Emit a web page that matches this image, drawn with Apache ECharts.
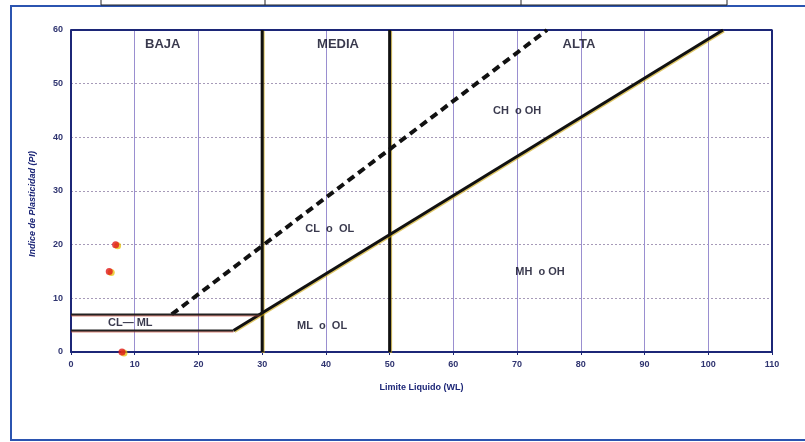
<!DOCTYPE html>
<html>
<head>
<meta charset="utf-8">
<script src="https://cdn.jsdelivr.net/npm/echarts@6/dist/echarts.min.js"></script>
<style>
html,body{margin:0;padding:0;background:#fff;}
#c{width:805px;height:442px;}
</style>
</head>
<body>
<div id="c"></div>
<script>
// ---- data ----
const xTicks = [0,10,20,30,40,50,60,70,80,90,100,110];
const yTicks = [0,10,20,30,40,50,60];
const aLine = [[25.5,4],[102.3,60]];          // línea A (sólida)
const uLine = [[15.8,7],[74.7,60]];           // línea U (discontinua)
const clmlTop = [[0,7],[29.6,7]];
const clmlBottom = [[0,4],[25.5,4]];
const limit30 = [[30,0],[30,60]];
const limit50 = [[50,0],[50,60]];
const samples = [[7,20],[6,15],[8,0]];
const zoneNames = ['BAJA','MEDIA','ALTA','CH  o OH','CL  o  OL','MH  o OH','ML  o  OL','CL— ML'];
const zoneX = [14.4,41.9,79.7,70,40.6,73.6,39.4,9.3];
const zoneY = [57.4,57.4,57.4,45,22.9,14.9,4.8,5.4];
const zoneBig = [true,true,true,false,false,false,false,false];

const navy = '#1c2677';
const zoneData = zoneNames.map((n,i)=>({name:n,value:[zoneX[i],zoneY[i]],
  label:{fontSize: zoneBig[i]?13:11}}));

function seg(data){
  return {type:'line',data:data,symbol:'none',silent:true,animation:false,
    lineStyle:{color:'#111',width:3,shadowColor:'rgba(200,160,0,0.6)',shadowOffsetX:1,shadowOffsetY:1},z:5};
}
function dseg(data){
  return {type:'line',data:data,symbol:'none',silent:true,animation:false,
    lineStyle:{color:'#111',width:4,type:[8,5]},z:5};
}
function hseg(data){
  return {type:'line',data:data,symbol:'none',silent:true,animation:false,
    lineStyle:{color:'#222',width:2,shadowColor:'rgba(200,60,40,0.6)',shadowOffsetY:1},z:5};
}

const chart = echarts.init(document.getElementById('c'));
chart.setOption({
  backgroundColor:'#fff',
  animation:false,
  grid:{left:71,top:30,width:701,height:322,show:false},
  graphic:[
    {type:'rect',shape:{x:11,y:6,width:800,height:434},style:{fill:'none',stroke:'#2b54b0',lineWidth:2},z:0},
    {type:'rect',shape:{x:101,y:-5,width:626,height:10},style:{fill:'#fff',stroke:'#222',lineWidth:1},z:1},
    {type:'line',shape:{x1:265,y1:-5,x2:265,y2:5},style:{stroke:'#222',lineWidth:1},z:1},
    {type:'line',shape:{x1:521,y1:-5,x2:521,y2:5},style:{stroke:'#222',lineWidth:1},z:1},
    {type:'text',x:33,y:204,rotation:Math.PI/2,
     style:{text:'Indice de Plasticidad (PI)',fill:navy,font:'italic bold 9px "Liberation Sans", Arial',
       align:'center',verticalAlign:'middle'},z:10}
  ],
  xAxis:{type:'value',min:0,max:110,interval:10,
    name:'Limite Liquido (WL)',nameLocation:'middle',nameGap:31,
    nameTextStyle:{color:navy,fontSize:9,fontWeight:'bold',fontFamily:'Liberation Sans'},
    axisLine:{show:true,lineStyle:{color:navy,width:2}},
    axisTick:{show:true,length:3,lineStyle:{color:navy}},
    axisLabel:{color:'#2f3470',fontSize:9,fontWeight:'bold',margin:8,fontFamily:'Liberation Sans',
      formatter:v=>xTicks.includes(v)?String(v):''},
    splitLine:{show:true,lineStyle:{color:'#9a8fd0',width:1}}
  },
  yAxis:{type:'value',min:0,max:60,interval:10,
    axisLine:{show:true,lineStyle:{color:navy,width:2}},
    axisTick:{show:false},
    axisLabel:{color:'#2f3470',fontSize:9,fontWeight:'bold',margin:8,fontFamily:'Liberation Sans',
      formatter:v=>yTicks.includes(v)?String(v):''},
    splitLine:{show:true,lineStyle:{color:'#a69ab8',width:1,type:[2,2]}}
  },
  series:[
    {type:'line',data:[[0,60],[110,60],[110,0]],symbol:'none',silent:true,
      lineStyle:{color:navy,width:2},z:3},
    seg(limit30),
    seg(limit50),
    seg(aLine),
    dseg(uLine),
    hseg(clmlTop),
    hseg(clmlBottom),
    {type:'scatter',data:samples,symbolSize:7,
      itemStyle:{color:'#e01818',shadowColor:'rgba(230,190,0,0.9)',shadowOffsetX:2,shadowOffsetY:1},z:8},
    {type:'scatter',data:zoneData,symbolSize:0,silent:true,z:9,
      label:{show:true,position:'inside',formatter:p=>p.name,color:'#080820',fontWeight:'bold',
        fontFamily:'Liberation Sans'}}
  ]
});
</script>
</body>
</html>
